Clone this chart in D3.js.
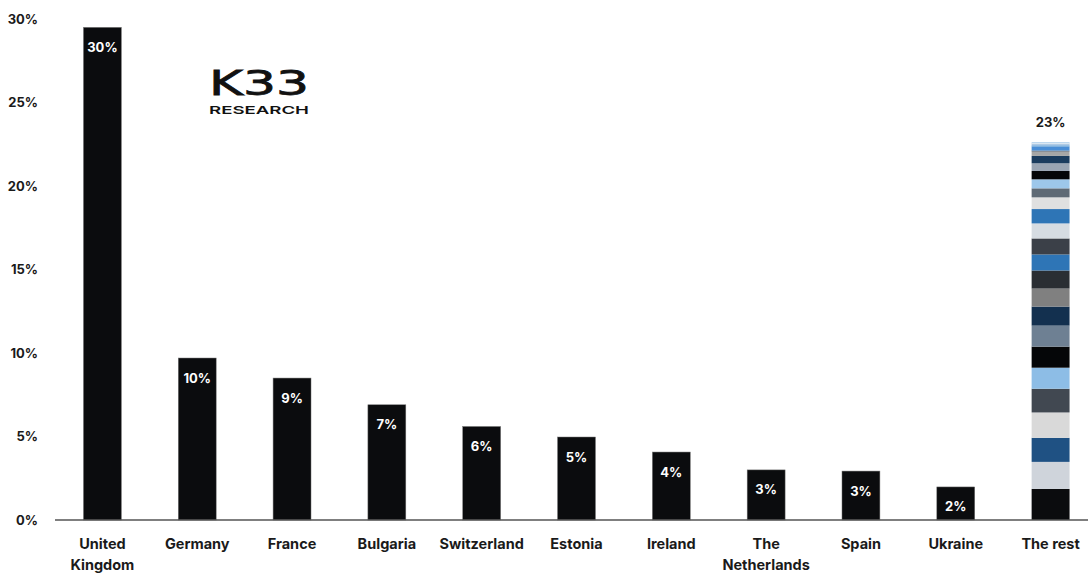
<!DOCTYPE html>
<html>
<head>
<meta charset="utf-8">
<script src="https://cdn.jsdelivr.net/npm/d3@7"></script>
<style>
  html, body { margin: 0; padding: 0; background: #fff; }
  svg { display: block; font-family: Inter, "Noto Sans", sans-serif; }
</style>
</head>
<body>
<svg id="chart" width="1088" height="573"></svg>
<script>
const categories = ["United Kingdom", "Germany", "France", "Bulgaria", "Switzerland", "Estonia", "Ireland", "The Netherlands", "Spain", "Ukraine", "The rest"];
const values = [29.5, 9.7, 8.5, 6.9, 5.6, 4.97, 4.07, 3.0, 2.93, 1.98, null];
const labels = ["30%", "10%", "9%", "7%", "6%", "5%", "4%", "3%", "3%", "2%", "23%"];
const restValues = [1.86, 1.62, 1.44, 1.52, 1.42, 1.26, 1.26, 1.26, 1.14, 1.08, 1.08, 0.96, 0.96, 0.90, 0.86, 0.70, 0.54, 0.54, 0.50, 0.46, 0.44, 0.26, 0.06, 0.24, 0.08, 0.06, 0.04, 0.04, 0.04];
const restColors = ["#0b0c0e", "#cfd4db", "#1f5183", "#d9d9d9", "#414851", "#8dbde6", "#050608", "#6e8093", "#13304f", "#808080", "#2a2e33", "#2e75b6", "#3b4048", "#d6dce2", "#2e75b6", "#e0e0e0", "#5f6a75", "#9dc7ea", "#050608", "#9aa5b3", "#1b3c5e", "#a6a6a6", "#555d66", "#4a8ed6", "#5b9bd5", "#d0e0f0", "#2e75b6", "#ffffff", "#9dc3e6"];
const yTicks = [0, 5, 10, 15, 20, 25, 30];

const svg = d3.select("#chart");
const x = d3.scaleBand().domain(categories).range([55, 1098]).paddingInner(0.6).paddingOuter(0.3);
const y = d3.scaleLinear().domain([0, 30]).range([520, 19]);

// y tick labels
svg.append("g").selectAll("text").data(yTicks).join("text")
  .attr("x", 38).attr("y", d => y(d)).attr("dy", "0.35em")
  .attr("text-anchor", "end").attr("font-size", 13).attr("font-weight", 700).attr("fill", "#1a1a1a")
  .text(d => d + "%");

// bars
const single = categories.map((c, i) => ({c, v: values[i], l: labels[i]})).filter(d => d.v !== null);
svg.append("g").selectAll("rect").data(single).join("rect")
  .attr("x", d => x(d.c)).attr("width", x.bandwidth())
  .attr("y", d => y(d.v)).attr("height", d => y(0) - y(d.v))
  .attr("fill", "#0b0c0e").attr("stroke", "#777").attr("stroke-width", 0.5);

svg.append("g").selectAll("text").data(single).join("text")
  .attr("x", d => x(d.c) + x.bandwidth() / 2).attr("y", d => y(d.v) + 20).attr("dy", "0.35em")
  .attr("text-anchor", "middle").attr("font-size", 13).attr("font-weight", 700).attr("fill", "#fff")
  .text(d => d.l);

// stacked "The rest"
let acc = 0;
const segs = restValues.map((v, i) => { const s = {y0: acc, y1: acc + v, col: restColors[i]}; acc += v; return s; });
const restCat = categories[categories.length - 1];
svg.append("g").selectAll("rect").data(segs).join("rect")
  .attr("x", x(restCat)).attr("width", x.bandwidth())
  .attr("y", d => y(d.y1)).attr("height", d => y(d.y0) - y(d.y1))
  .attr("fill", d => d.col);
svg.append("text")
  .attr("x", x(restCat) + x.bandwidth() / 2).attr("y", y(acc) - 20).attr("dy", "0.35em")
  .attr("text-anchor", "middle").attr("font-size", 13).attr("font-weight", 700).attr("fill", "#1a1a1a")
  .text(labels[labels.length - 1]);

// x axis line
svg.append("line").attr("x1", 55).attr("x2", 1088).attr("y1", y(0)).attr("y2", y(0))
  .attr("stroke", "#555").attr("stroke-width", 1.5);

// category labels
const xl = svg.append("g").selectAll("text").data(categories).join("text")
  .attr("x", d => x(d) + x.bandwidth() / 2).attr("y", 544).attr("dy", "0.35em")
  .attr("text-anchor", "middle").attr("font-size", 14.5).attr("font-weight", 700).attr("fill", "#1a1a1a");
xl.each(function(d) {
  const t = d3.select(this);
  const parts = (d === "United Kingdom" || d === "The Netherlands") ? d.split(" ") : [d];
  parts.forEach((p, i) => t.append("tspan").attr("x", x(d) + x.bandwidth() / 2).attr("dy", i === 0 ? "0.35em" : "1.45em").text(p));
});

// logo
const logo = svg.append("g").attr("transform", "translate(209,0)");
logo.append("text").attr("x", 0).attr("y", 95).attr("font-size", 34).attr("font-weight", 400)
  .attr("font-family", "'DejaVu Sans', sans-serif").attr("fill", "#111").attr("stroke", "#111").attr("stroke-width", 0.8)
  .attr("textLength", 100).attr("lengthAdjust", "spacingAndGlyphs").text("K33");
logo.append("text").attr("x", 0).attr("y", 114).attr("font-size", 11).attr("font-weight", 600)
  .attr("fill", "#111").attr("textLength", 100).attr("lengthAdjust", "spacingAndGlyphs").text("RESEARCH");
</script>
</body>
</html>
